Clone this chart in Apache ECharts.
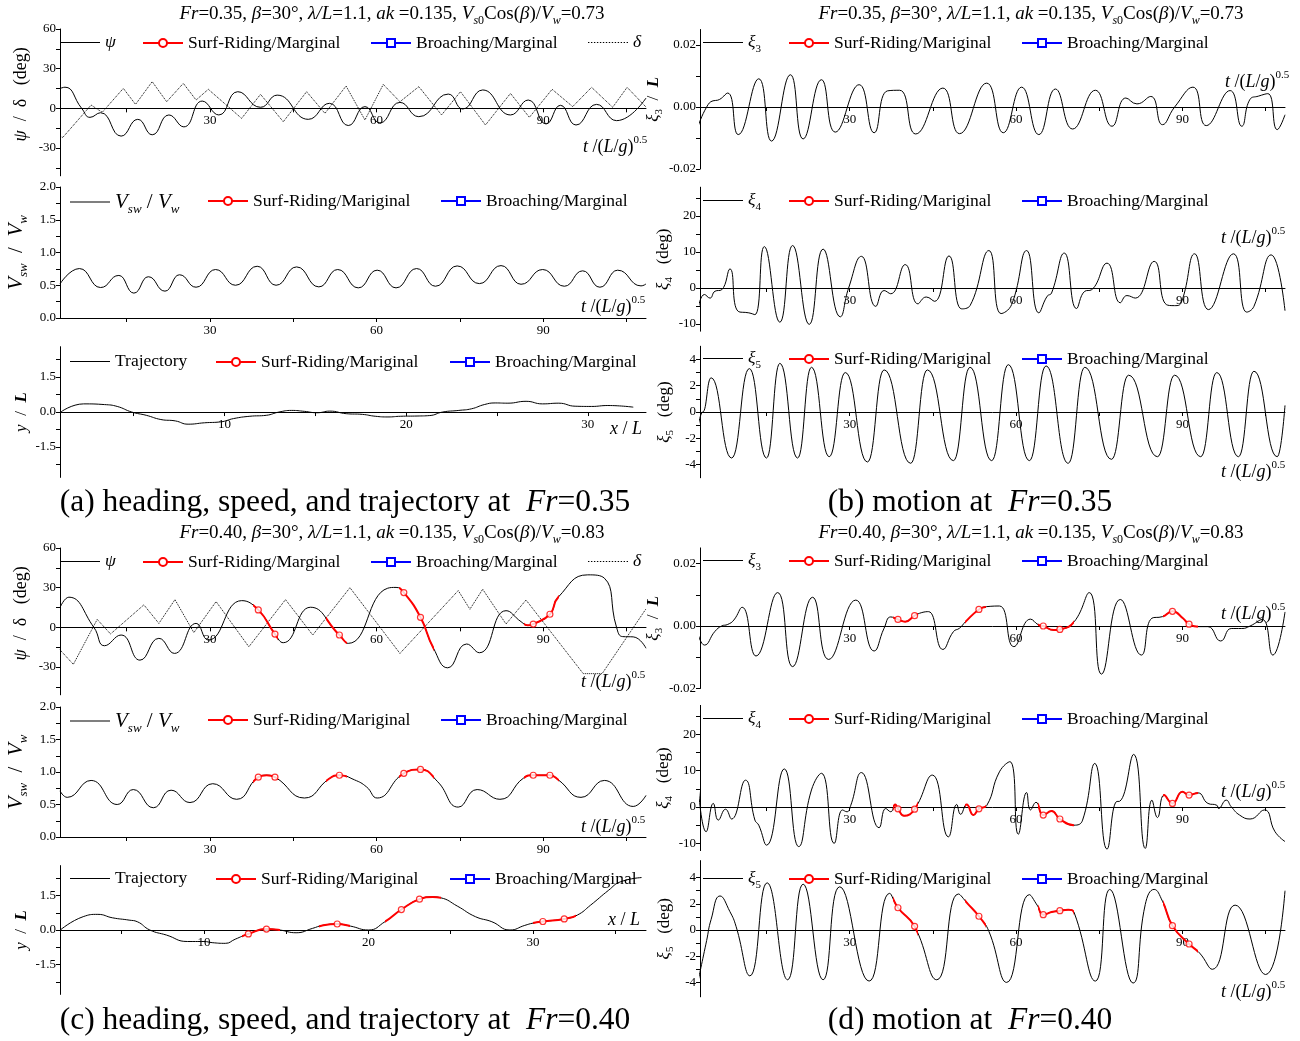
<!DOCTYPE html>
<html><head><meta charset="utf-8">
<script src="https://cdn.jsdelivr.net/npm/echarts@6/dist/echarts.min.js"></script>
<style>html,body{margin:0;padding:0;background:#fff}#c{width:1300px;height:1041px}</style>
</head><body><div id="c"></div>
<script>
// ================= DATA =================
const tTicks = [15,30,45,60,75,90,105];
const tLabels = [30,60,90];
const xTicksA = [5,10,15,20,25,30];
const xTicksC = [5,10,15,20,25,30,35];
const xLabelsTraj = [10,20,30];

// (a) Fr = 0.35
const a1Psi = [[3,15],[3.9,16],[6.9,0],[8.4,-6.8],[10.3,-3.3],[14.0,-21],[17.0,-8.3],[19.6,-20],[22.6,-5],[25.3,-14],[28.6,5.5],[31.6,-5],[35.0,12.6],[39.1,0.8],[42.1,10],[47.7,-8.3],[51.5,3.8],[54.9,-13],[57.9,1.3],[60.6,-11],[64.2,4.5],[67.6,-6.3],[72.9,10.8],[75.5,-0.5],[79.1,13.9],[84.1,-5],[87.3,6.3],[90.5,-11.8],[93.1,2.3],[95.9,-12.6],[99.6,3],[103.2,-9.3],[108.5,7.8]];
const a1Delta = [[3.0,-21],[3.5,-22],[8.6,2.5],[10.6,-3],[14.4,15.1],[16.6,3.0],[19.6,20.2],[22.2,5.0],[25.2,18.9],[27.5,6.3],[29.7,14.4],[35.7,-7.6],[39.1,10.6],[43.2,-10.1],[47.4,12.6],[50.7,-3.8],[54.5,16.9],[57.9,-8.8],[61.2,18.1],[64.2,5.0],[67.6,16.4],[71.7,-5.0],[75.1,12.6],[79.6,-12.6],[84.1,11.3],[87.5,-6.8],[91.6,14.4],[95.3,1.3],[98.7,15.9],[102.5,0.8],[105.1,15.9],[108.5,1.0]];
const a2Vsw = [[3,0.52],[6.5,0.755],[10.3,0.465],[13.6,0.65],[16.3,0.38],[18.9,0.63],[21.9,0.41],[24.5,0.66],[27.5,0.47],[31.0,0.74],[34.6,0.50],[38.5,0.79],[41.9,0.50],[45.6,0.78],[49.6,0.475],[53.0,0.74],[56.7,0.46],[60.1,0.73],[63.5,0.46],[67.2,0.755],[70.6,0.485],[74.5,0.795],[78.5,0.525],[82.4,0.80],[86.0,0.515],[89.9,0.74],[93.8,0.485],[97.1,0.72],[100.2,0.47],[103.4,0.73],[107.6,0.49],[108.5,0.52]];
const a3Traj = [[0.99,0],[2.25,0.35],[3.4,0.32],[4.1,0.24],[4.9,0],[5.7,-0.14],[6.5,-0.32],[7.3,-0.38],[8.0,-0.52],[8.9,-0.46],[9.8,-0.42],[10.5,-0.28],[11.4,-0.18],[12.3,-0.14],[13.0,0],[13.7,0.07],[14.4,0.03],[15.1,-0.03],[15.8,0.04],[16.7,-0.07],[17.6,-0.1],[18.3,-0.18],[19.0,-0.21],[19.7,-0.18],[20.6,-0.17],[21.3,-0.15],[22.0,0],[22.9,0.07],[23.6,0.14],[24.3,0.32],[24.9,0.39],[25.6,0.38],[26.6,0.46],[27.5,0.35],[28.4,0.38],[29.3,0.25],[30.2,0.24],[31.1,0.28],[32.5,0.21]];

// (b) Fr = 0.35
const b1Xi3 = [[2.7,-0.006],[4.2,0.0],[5.35,0.002],[6.2,0.0022],[8.0,0.0045],[9.9,-0.0089],[13.6,0.0091],[15.9,-0.011],[19.3,0.0104],[21.6,-0.0103],[24.9,0.0088],[27.4,-0.0081],[31.7,0.0072],[34.4,-0.0083],[36.8,0.0052],[39.0,0.0054],[41.9,-0.0087],[46.8,0.0061],[49.8,-0.0086],[54.7,0.0077],[57.7,-0.0083],[61.0,0.0064],[64.1,-0.0089],[67.1,0.0058],[70.2,-0.0071],[74.3,0.0054],[77.3,-0.0062],[79.8,0.0029],[81.8,0.0010],[84.3,0.0034],[86.4,-0.0057],[88.6,0.0],[91.9,0.0064],[94.3,-0.006],[98.6,0.0053],[100.7,-0.0062],[102.2,0.0025],[103.7,0.0035],[105.4,0.0043],[107.1,-0.0073],[108.5,-0.0025]];
const b2Xi4 = [[2.7,-5.5],[3.8,-1.8],[4.8,-2.8],[5.7,-0.9],[6.9,-0.5],[8.4,5.3],[9.9,-6.5],[11.8,-6.9],[12.9,-7.4],[14.6,11.5],[17.4,-9.5],[19.7,11.8],[22.7,-10.1],[25.2,10.8],[28.3,-8.0],[29.8,0],[32.1,8.8],[34.7,-5.1],[36.2,-0.7],[37.4,-1.6],[40.0,6.5],[42.3,-4.4],[43.8,-2.5],[45.3,-3.7],[47.9,8.9],[50.2,-5.8],[51.7,-4.9],[55.1,10.4],[57.3,-7.1],[59.2,-4.6],[61.9,10.4],[64.1,-6.9],[65.6,-2.3],[66.4,-1.4],[68.7,9.7],[70.9,-5.7],[72.4,-0.9],[73.6,-0.5],[76.4,6.9],[78.8,-4.1],[80.0,-2.1],[81.5,-2.8],[84.9,7.4],[87.1,-4.6],[88.6,-4.9],[89.8,-4.0],[92.2,9.5],[94.7,-6.0],[99.2,9.5],[101.6,-6.7],[102.9,-5.1],[106.0,9.2],[108.5,-6.3]];
const b3Xi5 = [[2.7,-1.0],[3.5,0],[5.0,2.6],[8.7,-3.5],[11.9,3.3],[15.0,-3.5],[17.4,3.7],[20.6,-3.5],[23.1,3.4],[26.3,-3.4],[29.2,3.0],[33.2,-3.8],[36.2,3.2],[41.0,-3.9],[44.0,3.2],[48.7,-3.7],[51.7,3.4],[55.6,-3.7],[58.6,3.6],[62.4,-3.7],[65.4,3.5],[69.4,-3.9],[72.4,3.4],[77.2,-3.6],[80.3,2.8],[85.5,-3.4],[88.6,2.8],[93.3,-3.4],[96.2,3.0],[100.1,-3.4],[102.9,3.1],[107.1,-3.4],[108.5,0.5]];

// (c) Fr = 0.40
const c1Psi = [[3,15],[4.6,22.8],[9.1,0],[11.0,-13.9],[14.0,-5.8],[17.4,-24.8],[20.8,-8.3],[23.6,-19.7],[27.5,3],[29.7,-9.6],[35.7,20.2],[43.2,-11.6],[48.1,15.2],[54.9,-12.1],[62.0,29.6],[63.5,30.2],[70.2,-15.4],[72.8,-30.6],[76.2,-12.6],[78.5,-19.2],[83.3,12.6],[86.0,4.3],[87.2,1.5],[92.7,22.8],[98.0,39.7],[101.0,37.2],[103.2,0],[104.3,-7],[106.2,-7.2],[108.5,-15.8]];
const c1PsiMk = [[38.7,13.2],[41.7,-5.1],[53.3,-5.8],[64.9,26.3],[67.9,7.6],[88.2,2.5],[91.2,9.9]];
const c1Delta = [[3.0,-17],[5.4,-28],[9.7,6],[12.1,-5],[18.1,17],[20.8,3],[23.7,21],[27.1,-4],[31.1,19.5],[37.0,-14.7],[43.6,21],[48.5,-5.8],[55.2,30],[64.2,-19.7],[74.7,27.8],[76.8,13.7],[79.1,28.8],[83.3,2.5],[86.9,20.7],[97.2,-35],[100.6,-35],[108.5,14]];
const c2Vsw = [[3,0.71],[4.3,0.61],[8.6,0.87],[13.3,0.50],[16.2,0.73],[19.8,0.45],[23.0,0.72],[26.4,0.53],[30.5,0.82],[34.8,0.58],[40.2,0.95],[47.0,0.60],[51.5,0.90],[56.0,0.88],[58.2,0.77],[60.1,0.60],[71.0,0.85],[74.7,0.46],[78.1,0.73],[82.2,0.58],[86.5,0.91],[92.7,0.88],[96.8,0.61],[101.0,0.87],[106.2,0.47],[108.5,0.64]];
const c2VswMk = [[38.7,0.92],[41.7,0.92],[53.3,0.95],[64.9,0.98],[67.9,1.04],[88.2,0.95],[91.2,0.95]];
const c3Traj = [[1.27,0],[2.66,0.58],[3.55,0.68],[4.44,0.53],[5.45,0.43],[5.95,0.36],[6.71,0],[7.72,-0.22],[8.99,-0.5],[10.0,-0.5],[10.5,-0.55],[11.3,-0.58],[11.9,-0.4],[14.6,0.0],[15.6,-0.12],[16.6,0.07],[17.2,0.2],[18.9,0.17],[20.0,0.0],[21.0,0.36],[23.9,1.44],[24.4,1.40],[25.4,1.04],[26.5,0.58],[27.5,0.36],[28.6,0.0],[29.5,0.2],[30.0,0.3],[32.7,0.65],[33.5,1.08],[34.6,1.73],[35.3,2.09],[36.6,2.28]];
const c3TrajMk = [[12.7,-0.17],[13.8,0.04],[18.1,0.26],[22.0,0.89],[23.1,1.34],[30.6,0.37],[31.9,0.48]];

// (d) Fr = 0.40
const d1Xi3 = [[2.7,-0.0029],[3.8,-0.0061],[5.7,-0.0017],[6.9,0],[8.0,0.0005],[9.1,0.0019],[10.6,0.006],[13.1,-0.0096],[17.0,0.0107],[19.7,-0.013],[23.3,0.0092],[26.2,-0.0107],[31.1,0.0083],[34.4,-0.008],[36.2,-0.0007],[37.4,0.0029],[40.0,0.0014],[43.0,0.0043],[44.2,0.0046],[46.8,-0.0075],[48.7,-0.0018],[49.8,-0.0007],[50.9,0.0014],[54.7,0.0062],[57.0,0.0064],[59.6,-0.0066],[62.6,0.0022],[64.1,0.0003],[66.8,-0.0013],[70.5,0.0014],[73.2,0.0107],[75.4,-0.0154],[78.8,0.0085],[82.6,-0.0093],[84.5,0.0025],[86.4,0.003],[90.1,0.0025],[93.1,-0.0002],[94.6,-0.0002],[96.9,-0.0048],[98.8,-0.0008],[100.7,-0.0008],[102.2,0],[104.4,0.0021],[106.3,-0.0093],[108.5,0.0045]];
const d1Xi3Mk = [[38.7,0.0021],[41.7,0.0033],[53.3,0.0053],[64.9,0.0],[67.9,-0.0011],[88.2,0.0047],[91.2,0.0006]];
const d2Xi4 = [[2.7,5],[4.1,-6.8],[5.4,1],[6.3,-3.6],[7.6,-0.6],[8.7,-3.3],[11.2,7.4],[12.9,-3.6],[13.6,-5],[15.0,-10.5],[18.2,10.5],[20.8,-10.9],[23.1,4.7],[24.9,9.3],[27.2,-10],[28.7,-0.8],[29.5,-1.3],[30.2,0.5],[32.1,9.5],[35.3,-5.7],[36.5,-0.4],[37.4,-1.3],[38.2,0.7],[39.8,-2.4],[44.9,8.8],[47.8,-8.2],[49.3,0.7],[50.0,-2.0],[51.1,0.7],[52.3,-2.2],[54.7,0.4],[57.0,9.7],[58.9,12.5],[60.4,-7.5],[61.9,4],[62.6,-0.8],[63.6,1.3],[66.4,-1.1],[70.4,-5],[72.0,-3.6],[74.2,12],[76.4,-11.6],[78.1,1.5],[78.7,1.6],[81.2,14.5],[83.3,-11.4],[84.5,1.9],[85.5,-2.9],[86.7,3.3],[90.0,4.2],[92.8,3.9],[94.6,1.0],[96.2,0.5],[96.5,-0.4],[97.9,1.9],[98.8,0.1],[100.3,-2.2],[102.2,-3.3],[104.8,-0.8],[106.7,-6.8],[108.5,-9.5]];
const d2Xi4Mk = [[38.7,-0.5],[41.7,-0.6],[53.3,-0.5],[64.9,-2.2],[67.9,-3.3],[88.2,1.0],[91.2,3.3]];
const d3Xi5 = [[2.7,-3.8],[4.2,-0.8],[5.0,0.8],[6.6,2.6],[8.4,1.4],[9.5,0.28],[12.0,-3.5],[15.1,3.6],[18.8,-3.8],[21.6,3.5],[25.2,-3.8],[28.2,3.3],[33.5,-3.9],[37.2,2.8],[45.7,-3.8],[49.6,2.75],[51.3,2.0],[55.1,-0.1],[58.3,-4.0],[62.4,2.7],[63.8,1.9],[66.4,1.37],[69.4,1.55],[70.5,1.3],[74.3,-3.9],[76.9,3.1],[81.1,-4.05],[83.3,1.95],[84.9,3.1],[86.4,2.2],[93.1,-1.76],[95.4,-3.0],[99.5,1.9],[105.0,-3.4],[108.5,3.0]];
const d3Xi5Mk = [[38.7,1.7],[41.7,0.28],[53.3,1.05],[64.9,1.17],[67.9,1.48],[88.2,0.33],[91.2,-1.07]];

// surf-riding intervals
const surfT = [[37.8,42.3],[50.8,54.6],[64.0,70.4],[86.5,92.8]];
const surfX = [[12.3,14.6],[17.0,18.9],[21.0,24.4],[30.0,32.6]];

// ================= BUILD =================
const FF = '"Liberation Serif","Times New Roman",serif';
function rich(S, pre){
  pre = pre || '';
  const sub = Math.round(S*0.62), off = Math.round(S*0.72);
  const o = {};
  o[pre+'n'] = {fontFamily:FF,fontSize:S,color:'#000',fill:'#000'};
  o[pre+'i'] = {fontFamily:FF,fontSize:S,fontStyle:'italic',color:'#000',fill:'#000'};
  o[pre+'b'] = {fontFamily:FF,fontSize:S,fontStyle:'italic',fontWeight:'bold',color:'#000',fill:'#000'};
  o[pre+'s'] = {fontFamily:FF,fontSize:sub,fontStyle:'italic',color:'#000',fill:'#000',padding:[off,0,0,0]};
  o[pre+'u'] = {fontFamily:FF,fontSize:sub,color:'#000',fill:'#000',padding:[off,0,0,0]};
  o[pre+'p'] = {fontFamily:FF,fontSize:sub,color:'#000',fill:'#000',padding:[0,0,off,0]};
  return o;
}
const merge = (a,b)=>a.concat(b).sort((p,q)=>p[0]-q[0]);

const option = {animation:false, backgroundColor:'#fff', grid:[], xAxis:[], yAxis:[], series:[], legend:[], visualMap:[], graphic:[]};

function panel(p){
  const g = option.grid.length;
  option.grid.push({left:p.left, top:p.top, width:p.width, height:p.height});
  const zeroOff = (0 - p.ymin) / (p.ymax - p.ymin) * p.height;
  option.xAxis.push({type:'value', gridIndex:g, min:p.xmin, max:p.xmax, position:'bottom', offset:-zeroOff,
    axisLine:{show:true, onZero:false, lineStyle:{color:'#000', width:1}},
    axisTick:{show:true, customValues:p.xt, length:4, lineStyle:{color:'#000'}},
    axisLabel:{show:true, customValues:p.xl, color:'#000', fontFamily:FF, fontSize:13, margin:6},
    splitLine:{show:false}});
  option.yAxis.push({type:'value', gridIndex:g, min:p.ymin, max:p.ymax,
    axisLine:{show:true, onZero:false, lineStyle:{color:'#000', width:1}},
    axisTick:{show:true, customValues:p.yt, length:4, lineStyle:{color:'#000'}},
    axisLabel:{show:true, customValues:p.yl, formatter:p.yfmt, color:'#000', fontFamily:FF, fontSize:13, margin:4},
    splitLine:{show:false},
    name:p.name, nameLocation:'middle', nameRotate:90, nameGap:p.nameGap,
    nameTextStyle:{rich:rich(p.nameSize||17), padding:p.namePad||0}});
  return g;
}
function line(g, name, data, opt){
  opt = opt || {};
  option.series.push(Object.assign({type:'line', name, xAxisIndex:g, yAxisIndex:g, data, smooth:0.5, symbol:'none',
    lineStyle:{color:'#000', width:1}, itemStyle:{color:'#000'}, z:2, silent:true}, opt));
  return option.series.length-1;
}
function markers(g, data){
  option.series.push({type:'scatter', name:'mk', xAxisIndex:g, yAxisIndex:g, data, symbol:'circle', symbolSize:6,
    itemStyle:{color:'#fff', borderColor:'#ff0000', borderWidth:1.2}, z:5, silent:true});
}
const f0 = v=>String(v), f1 = v=>v.toFixed(1), f2 = v=>v.toFixed(2);
const L = {left:60, width:586}, R = {left:700, width:585};
const TX = {xmin:3, xmax:108.5, xt:tTicks, xl:tLabels};
const psiY = {ymin:-51, ymax:60, yt:[-45,-30,-15,0,15,30,45,60], yl:[-30,0,30,60], yfmt:f0, name:'{i|ψ}{n|  /  δ   (deg)}', nameGap:30, nameSize:18, namePad:[0,0,0,16]};
const vY = {ymin:0, ymax:2, yt:[0,0.25,0.5,0.75,1,1.25,1.5,1.75,2], yl:[0,0.5,1,1.5,2], yfmt:f1, name:'{i|V}{s|sw}{n|  /  }{i|V}{s|w}', nameGap:30, nameSize:21};
const trY = {ymin:-2.8, ymax:2.8, yt:[-2.25,-1.5,-0.75,0,0.75,1.5,2.25], yl:[-1.5,0,1.5], yfmt:f1, name:'{i|y}{n|  /  }{b|L}', nameGap:30};
const x3Y = {ymin:-0.02, ymax:0.025, yt:[-0.02,-0.01,0,0.01,0.02], yl:[-0.02,0,0.02], yfmt:f2, name:'{i|ξ}{u|3}{n|  /  }{b|L}', nameGap:26};
const x4Y = {ymin:-12, ymax:28, yt:[-10,-5,0,5,10,15,20,25], yl:[-10,0,10,20], yfmt:f0, name:'{i|ξ}{u|4}{n|   (deg)}', nameGap:24};
const x5Y = {yt:[-4,-3,-2,-1,0,1,2,3,4], yl:[-4,-2,0,2,4], yfmt:f0, name:'{i|ξ}{u|5}{n|   (deg)}', nameGap:24};

// legend-only series (first so legend icons take their style)
const gA1 = panel(Object.assign({}, L, TX, psiY, {top:29, height:146.8}));
line(gA1, 'Surf-Riding/Marginal', [], {symbol:'emptyCircle', symbolSize:7, lineStyle:{color:'#ff0000', width:1.5}, itemStyle:{color:'#ff0000'}});
line(gA1, 'Surf-Riding/Mariginal', [], {symbol:'emptyCircle', symbolSize:7, lineStyle:{color:'#ff0000', width:1.5}, itemStyle:{color:'#ff0000'}});
line(gA1, 'Broaching/Marginal', [], {symbol:'emptyRect', symbolSize:7, lineStyle:{color:'#0000ff', width:1.5}, itemStyle:{color:'#0000ff'}});
line(gA1, 'δ', a1Delta, {smooth:false, lineStyle:{color:'#000', width:1, type:'dotted'}});
line(gA1, 'ψ', a1Psi);

const gA2 = panel(Object.assign({}, L, TX, vY, {top:187, height:131}));
line(gA2, 'Vsw', a2Vsw, {smoothMonotone:'x'});
const gA3 = panel(Object.assign({}, L, trY, {top:346.7, height:130.7, xmin:0.95, xmax:33.2, xt:xTicksA, xl:xLabelsTraj}));
line(gA3, 'Trajectory', a3Traj);

const gB1 = panel(Object.assign({}, R, TX, x3Y, {top:29.5, height:139.5}));
line(gB1, 'ξ3', b1Xi3);
const gB2 = panel(Object.assign({}, R, TX, x4Y, {top:187.2, height:144}));
line(gB2, 'ξ4', b2Xi4);
const gB3 = panel(Object.assign({}, R, TX, x5Y, {top:346.25, height:131.5, ymin:-5, ymax:5}));
line(gB3, 'ξ5', b3Xi5, {smoothMonotone:'x'});

const redT = [], redX = [];
function withRed(g, name, base, mk, list, opt){
  const d = merge(base, mk);
  line(g, name, d, opt);
  list.push(line(g, 'overlay', d, Object.assign({}, opt||{}, {lineStyle:{width:2}, z:3})));
  markers(g, mk);
}
const gC1 = panel(Object.assign({}, L, TX, psiY, {top:548, height:146.8}));
line(gC1, 'δ', c1Delta, {smooth:false, lineStyle:{color:'#000', width:1, type:'dotted'}});
withRed(gC1, 'ψ', c1Psi, c1PsiMk, redT);
const gC2 = panel(Object.assign({}, L, TX, vY, {top:707, height:130}));
withRed(gC2, 'Vsw', c2Vsw, c2VswMk, redT);
const gC3 = panel(Object.assign({}, L, trY, {top:865.6, height:128.8, xmin:1.25, xmax:36.87, xt:xTicksC, xl:xLabelsTraj}));
withRed(gC3, 'Trajectory', c3Traj, c3TrajMk, redX);

const gD1 = panel(Object.assign({}, R, TX, x3Y, {top:547.9, height:140.6}));
withRed(gD1, 'ξ3', d1Xi3, d1Xi3Mk, redT);
const gD2 = panel(Object.assign({}, R, TX, x4Y, {top:705.4, height:145.2}));
withRed(gD2, 'ξ4', d2Xi4, d2Xi4Mk, redT);
const gD3 = panel(Object.assign({}, R, TX, x5Y, {top:860.6, height:136.2, ymin:-5.1, ymax:5.3}));
withRed(gD3, 'ξ5', d3Xi5, d3Xi5Mk, redT);

const pieces = segs => segs.map(s=>({gt:s[0], lte:s[1], color:'#ff0000'}));
option.visualMap.push({type:'piecewise', show:false, dimension:0, seriesIndex:redT, pieces:pieces(surfT), outOfRange:{color:'rgba(0,0,0,0)'}});
option.visualMap.push({type:'piecewise', show:false, dimension:0, seriesIndex:redX, pieces:pieces(surfX), outOfRange:{color:'rgba(0,0,0,0)'}});

// legends
const FMT = {'ψ':'{i|ψ}', 'δ':'{i|δ}', 'Vsw':'{Li|V}{Ls|sw}{Ln| / }{Li|V}{Ls|w}', 'ξ3':'{i|ξ}{u|3}', 'ξ4':'{i|ξ}{u|4}', 'ξ5':'{i|ξ}{u|5}'};
const PLAIN = {'ψ':1,'δ':1,'Vsw':1,'Trajectory':1,'ξ3':1,'ξ4':1,'ξ5':1};
let dotPath = 'path://';
for (let k = 0; k < 40; k += 3) dotPath += 'M' + k + ',0h1.4v1h-1.4z';
const legRich = Object.assign({}, rich(17.5), rich(21,'L'));
function leg(name, left, y){
  const plain = !!PLAIN[name];
  const item = plain ? {name, icon: name==='δ' ? dotPath : 'rect'} : {name};
  option.legend.push({show:true, left, top: plain ? y-8.5 : y-8, padding:0, itemWidth:40, itemHeight: plain ? 1 : 10, itemGap:0, data:[item], selectedMode:false,
    formatter: n => FMT[n] || n, textStyle:{fontFamily:FF, fontSize:17.5, color:'#000', rich:legRich}});
}
function legRowPsi(y, srName){ leg('ψ',60,y); leg(srName,142,y); leg('Broaching/Marginal',370,y); leg('δ',588,y); }
function legRow3(first, y){ leg(first,70,y); leg('Surf-Riding/Mariginal', first==='Trajectory'?215:207, y); leg('Broaching/Marginal', first==='Trajectory'?449:440, y); }
function legRowXi(first, y){ leg(first,703,y); leg('Surf-Riding/Mariginal',788,y); leg('Broaching/Marginal',1021,y); }
legRowPsi(42,'Surf-Riding/Marginal'); legRow3('Vsw',200); legRow3('Trajectory',361);
legRowXi('ξ3',42); legRowXi('ξ4',200); legRowXi('ξ5',358);
legRowPsi(561,'Surf-Riding/Marginal'); legRow3('Vsw',719); legRow3('Trajectory',878);
legRowXi('ξ3',560); legRowXi('ξ4',718); legRowXi('ξ5',878);

// texts
function txt(x, y, text, S, align){
  option.graphic.push({type:'text', x, y, silent:true, style:{text, rich:rich(S), fontFamily:FF, fontSize:S, fill:'#000',
    align:align||'center', verticalAlign:'middle', textAlign:align||'center', textVerticalAlign:'middle'}});
}
const title = v => '{i|Fr}{n|='+v[0]+', }{i|β}{n|=30°, }{i|λ/L}{n|=1.1, }{i|ak}{n| =0.135, }{i|V}{s|s}{u|0}{n|Cos(}{i|β}{n|)/}{i|V}{s|w}{n|='+v[1]+'}';
txt(392,14,title(['0.35','0.73']),19); txt(1031,14,title(['0.35','0.73']),19);
txt(392,533,title(['0.40','0.83']),19); txt(1031,533,title(['0.40','0.83']),19);
txt(345,503,'{n|(a) heading, speed, and trajectory at  }{i|Fr}{n|=0.35}',31.5);
txt(970,503,'{n|(b) motion at  }{i|Fr}{n|=0.35}',31.5);
txt(345,1021,'{n|(c) heading, speed, and trajectory at  }{i|Fr}{n|=0.40}',31.5);
txt(970,1021,'{n|(d) motion at  }{i|Fr}{n|=0.40}',31.5);
const tl = '{i|t}{n| /(}{i|L}{n|/}{i|g}{n|)}{p|0.5}';
[[583,147],[581,307],[1225,82],[1221,238],[1221,472],[581,682],[581,827],[1221,614],[1221,792],[1221,992]].forEach(p=>txt(p[0],p[1],tl,18,'left'));
txt(610,429,'{i|x}{n| / }{i|L}',18,'left'); txt(608,920,'{i|x}{n| / }{i|L}',18,'left');

const chart = echarts.init(document.getElementById('c'), null, {renderer:'canvas'});
chart.setOption(option);
</script>
</body></html>
